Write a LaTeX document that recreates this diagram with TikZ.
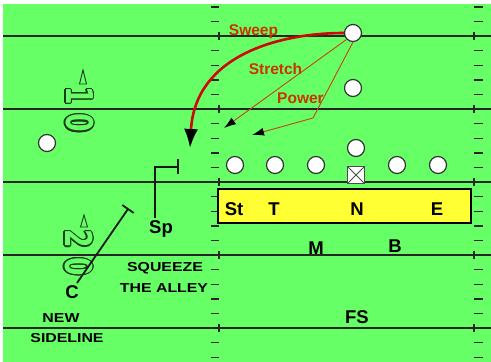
\documentclass[tikz,border=0pt]{standalone}
\usepackage{fontspec}
\setmainfont{Liberation Sans}
\newfontfamily\widefont{Liberation Sans}[FakeStretch=1.22]
\newfontfamily\yardfont{DejaVu Sans}[FakeStretch=0.72]
\usepackage{contour}
\contourlength{1.1pt}
\usetikzlibrary{shapes,arrows.meta,positioning,calc}
\definecolor{field}{HTML}{66FF66}
\definecolor{dlyellow}{HTML}{FFFF33}
\definecolor{sweepred}{HTML}{CC0A00}
\definecolor{runred}{HTML}{C8401E}
\definecolor{calltext}{HTML}{CC3300}
\definecolor{yardink}{HTML}{1A3A1A}
\newcommand{\yardnum}[1]{\rotatebox{-90}{\contour{yardink}{\textcolor{field}{#1}}}}

\begin{document}
\begin{tikzpicture}[x=1pt, y=-1pt,
    pl/.style={circle, draw=black!80, fill=white, line width=1.2pt, minimum size=17pt, inner sep=0pt},
    ctr/.style={rectangle, draw=black!70, fill=white, line width=0.9pt, minimum size=17pt, inner sep=0pt,
        path picture={\draw[black!70, line width=0.8pt] (path picture bounding box.south west) -- (path picture bounding box.north east)
            (path picture bounding box.north west) -- (path picture bounding box.south east);}},
    dlbox/.style={rectangle, draw=black, fill=dlyellow, line width=2pt, minimum width=253pt, minimum height=34pt, inner sep=0pt},
    posn/.style={font=\fontsize{18.5}{18.5}\selectfont\bfseries, inner sep=0pt, anchor=base},
    call/.style={font=\fontsize{15.5}{15.5}\selectfont\bfseries, text=calltext, inner sep=0pt, anchor=base},
    note/.style={font=\widefont\fontsize{13}{13}\selectfont\bfseries, inner sep=0pt, anchor=base},
    yard/.style={font=\yardfont\fontsize{37}{37}\selectfont\bfseries, inner sep=0pt},
    ydl/.style={line width=1.8pt, draw=black!85},
    hashm/.style={line width=1.4pt, draw=black!85},
    arrowmark/.style={line width=0.9pt, draw=yardink},
    run/.style={draw=runred, line width=0.9pt, -{Latex[length=12pt,width=8pt,color=black]}},
    sweep/.style={draw=sweepred, line width=2.6pt, -{Latex[length=19pt,width=14pt,color=black]}},
    assign/.style={line width=1.8pt, draw=black!90}
]
    \useasboundingbox (0,0) rectangle (491,362);
    % Field
    \fill[white] (0,0) rectangle (491,362);
    \fill[field] (3,4) rectangle (491,362);
    \foreach \yl in {36,109,182,255,328} {
        \draw[ydl] (3,\yl) -- (491,\yl);
        \draw[hashm] (219,\yl-4) -- (219,\yl+4);
        \draw[hashm] (474,\yl-4) -- (474,\yl+4);
    }
    \foreach \k in {0,...,24} {
        \pgfmathtruncatemacro\m{mod(\k,5)}
        \ifnum\m=2\else
            \draw[hashm] (211,6.8+14.6*\k) -- (219,6.8+14.6*\k);
            \draw[hashm] (474,6.8+14.6*\k) -- (483,6.8+14.6*\k);
        \fi
    }

    % Yard numbers
    \node[yard] (ten) at (79,109.5) {\yardnum{1\hspace{9pt}0}};
    \node[yard] (twenty) at (78,253) {\yardnum{2\hspace{9pt}0}};
    \draw[arrowmark] (83,70) -- (86.5,84) -- (79.5,84) -- cycle;
    \draw[arrowmark] (84,215) -- (87.5,227) -- (80.5,227) -- cycle;

    % Defensive line
    \node[dlbox] (dl) at (344.5,206) {};
    \node[posn] (st) at (234,215) {St};
    \node[posn] (t) at (274,215) {T};
    \node[posn] (n) at (357,215) {N};
    \node[posn] (e) at (437,215) {E};
    \node[posn] (m) at (316,254) {M};
    \node[posn] (b) at (395,252) {B};
    \node[posn] (fs) at (357,323) {FS};
    \node[posn] (sp) at (161,233) {Sp};
    \node[posn] (c) at (72,298) {C};

    % Offense
    \node[pl] (qb) at (353,33) {};
    \node[pl] (rb) at (353,88) {};
    \node[pl] (fb) at (356,148) {};
    \node[pl] (lt) at (235,165) {};
    \node[pl] (lg) at (275,165) {};
    \node[pl] (lg2) at (316,165) {};
    \node[ctr] (ctr) at (356,175) {};
    \node[pl] (rg) at (397,165) {};
    \node[pl] (rt) at (438,165) {};
    \node[pl] (wr) at (47,143) {};

    % Plays
    \coordinate (sweepend) at (190,148);
    \coordinate (stretchend) at (224,128);
    \coordinate (pwrturn) at (313,118);
    \coordinate (pwrend) at (252,135);
    \draw[sweep] (qb.west) .. controls (280,33) and (195,55) .. (sweepend);
    \draw[run] (qb.south west) -- (stretchend);
    \draw[run] (qb.south) -- (pwrturn) -- (pwrend);
    \node[call] (sweeplbl) at (253.5,35) {Sweep};
    \node[call] (stretchlbl) at (275.5,74) {Stretch};
    \node[call] (powerlbl) at (300.5,103) {Power};

    % Assignments
    \coordinate (spblock) at (178,167);
    \draw[assign] ($(sp.north)+(-6,-2)$) |- (spblock);
    \draw[assign] ($(spblock)+(0,-8)$) -- ($(spblock)+(0,7)$);
    \coordinate (cstart) at (77,283);
    \coordinate (cblock) at (128,209);
    \draw[assign] (cstart) -- (cblock);
    \draw[assign] ($(cblock)!7pt!90:(cstart)$) -- ($(cblock)!7pt!-90:(cstart)$);

    % Notes
    \node[note] (sqz) at (165,271) {SQUEEZE};
    \node[note] (alley) at (164,292) {THE ALLEY};
    \node[note] (newl) at (61,322) {NEW};
    \node[note] (sideline) at (67,342) {SIDELINE};
\end{tikzpicture}
\end{document}
